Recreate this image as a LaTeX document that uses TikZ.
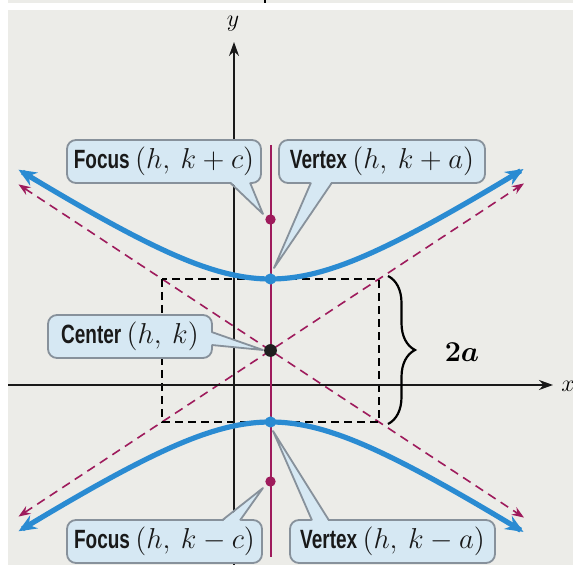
\documentclass[tikz,border=0pt]{standalone}
\usepackage{fontspec}
\usepackage{bm}
\usetikzlibrary{arrows.meta,decorations.pathreplacing,calc}
\newfontfamily\labfont{Liberation Sans}[FakeStretch=0.72]
\definecolor{hblue}{RGB}{42,139,210}
\definecolor{hmag}{RGB}{158,27,92}
\definecolor{cfill}{RGB}{214,232,243}
\definecolor{cline}{RGB}{135,145,155}
\definecolor{bgc}{RGB}{236,236,232}
\begin{document}
\begin{tikzpicture}[x=0.5pt,y=-0.5pt,
  lab/.style={draw=cline, fill=cfill, line width=0.9pt, rounded corners=4.5pt,
    inner sep=0pt, minimum height=21.5pt, text=black!90,
    font=\labfont\bfseries\fontsize{13.2}{15}\selectfont},
  tailline/.style={draw=cline, line width=0.9pt, line join=round},
  asym/.style={hmag, line width=0.8pt, dash pattern=on 4.5pt off 3pt,
    {Stealth[length=6pt,width=4.5pt]}-{Stealth[length=6pt,width=4.5pt]}},
  rectbox/.style={black, line width=0.8pt, dash pattern=on 4pt off 2.5pt},
  axisline/.style={black!90, line width=0.8pt, -{Stealth[length=7pt,width=5pt]}},
  hyp/.style={hblue, line width=2.6pt,
    {Stealth[length=9pt,width=7.5pt]}-{Stealth[length=9pt,width=7.5pt]}}]
\useasboundingbox (0,0) rectangle (573,565);
\fill[white] (0,0) rectangle (573,565);
\fill[bgc] (8,0) rectangle (573,3);
\fill[bgc] (8,10) rectangle (573,565);
\draw[black, line width=0.8pt] (265,0) -- (265,3);

% key points
\coordinate (C) at (270.5,350.5);
\coordinate (V1) at (270.5,279);
\coordinate (V2) at (270.5,422);
\coordinate (F1) at (270.5,219.5);
\coordinate (F2) at (270.5,481.5);

% asymptotes
\coordinate (A1) at (18.5,184.4);
\coordinate (A2) at (524,517.6);
\coordinate (A3) at (18.5,516.6);
\coordinate (A4) at (524,183.4);
\draw[asym] (A1) -- (A2);
\draw[asym] (A3) -- (A4);

% central rectangle
\draw[rectbox] (162,279) rectangle (379,422);

% axes
\coordinate (xs) at (8,385);
\coordinate (xe) at (553,385);
\coordinate (ys) at (234,565);
\coordinate (ye) at (234,42);
\draw[axisline] (xs) -- (xe);
\draw[axisline] (ys) -- (ye);
\node[font=\fontsize{12.5}{14}\selectfont, inner sep=0pt] (ylab) at (233,24) {$y$};
\node[font=\fontsize{12.5}{14}\selectfont, inner sep=0pt] (xlab) at (568,386) {$x$};

% transverse axis line
\coordinate (Ms) at (270.5,145);
\coordinate (Me) at (270.5,557);
\draw[hmag, line width=1pt] (Ms) -- (Me);

% hyperbola branches
\draw[hyp] plot[domain=-252:253,samples=120,smooth]
  ({270.5+\x},{350.5-71.5*sqrt(1+(\x/108.5)*(\x/108.5))});
\draw[hyp] plot[domain=-252:253,samples=120,smooth]
  ({270.5+\x},{350.5+71.5*sqrt(1+(\x/108.5)*(\x/108.5))});

% points
\fill[hblue] (V1) circle (2.8pt);
\fill[hblue] (V2) circle (2.8pt);
\fill[hmag] (F1) circle (2.6pt);
\fill[hmag] (F2) circle (2.6pt);
\fill[black!88] (C) circle (3.2pt);

% brace and 2a
\coordinate (B1) at (388,276);
\coordinate (B2) at (388,424);
\draw[decorate, decoration={brace, amplitude=13.5pt}, line width=1.1pt] (B1) -- (B2);
\node[font=\fontsize{13.5}{15}\selectfont, inner sep=0pt] (twoa) at (462,352) {$\bm{2a}$};

% callouts
\node[lab, minimum width=97pt] (fcA) at (164,161.5)
  {Focus {\fontsize{14.5}{16}\selectfont$(h,\ k+c)$}};
\node[lab, minimum width=103pt] (vxA) at (382,161.5)
  {Vertex {\fontsize{14.5}{16}\selectfont$(h,\ k+a)$}};
\node[lab, minimum width=82pt] (ctr) at (130,336.5)
  {Center {\fontsize{14.5}{16}\selectfont$(h,\ k)$}};
\node[lab, minimum width=97.5pt] (fcB) at (164.5,541.5)
  {Focus {\fontsize{14.5}{16}\selectfont$(h,\ k-c)$}};
\node[lab, minimum width=102.5pt] (vxB) at (392.5,541.5)
  {Vertex {\fontsize{14.5}{16}\selectfont$(h,\ k-a)$}};

% callout tails
\coordinate (tFA) at (263,214);
\coordinate (tVA) at (274,268);
\coordinate (tC) at (263,350);
\coordinate (tFB) at (263,488);
\coordinate (tVB) at (273,431);

\fill[cfill] (230,181) -- (tFA) -- (250,181) -- cycle;
\draw[tailline] (230,182.6) -- (tFA) -- (250,182.6);

\fill[cfill] (311,181) -- (tVA) -- (332,181) -- cycle;
\draw[tailline] (311,182.6) -- (tVA) -- (332,182.6);

\fill[cfill] (210,332) -- (tC) -- (210,345) -- cycle;
\draw[tailline] (211.6,332) -- (tC) -- (211.6,345);

\fill[cfill] (222,522) -- (tFB) -- (240,522) -- cycle;
\draw[tailline] (222,520.4) -- (tFB) -- (240,520.4);

\fill[cfill] (312,522) -- (tVB) -- (329,522) -- cycle;
\draw[tailline] (312,520.4) -- (tVB) -- (329,520.4);
\end{tikzpicture}
\end{document}
